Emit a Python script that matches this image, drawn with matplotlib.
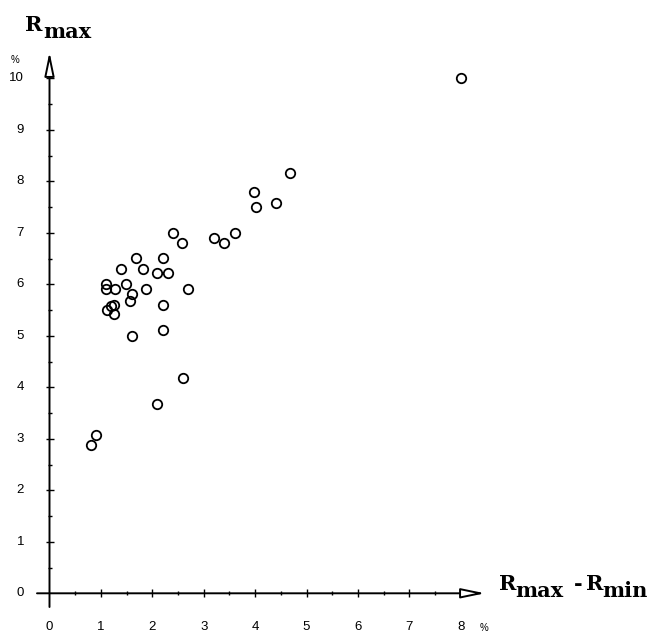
"""
Scatter of R_max against R_max - R_min (values in %)
"""

import matplotlib
matplotlib.use("Agg")
import matplotlib.pyplot as plt

# data (both axes in %)
spread = [8.0, 4.68, 3.98, 4.40, 4.01, 3.60, 3.20, 3.39, 2.40, 2.57,
          1.68, 2.20, 1.39, 1.81, 2.09, 2.30, 1.10, 1.49, 1.10, 1.28,
          1.87, 2.70, 1.61, 1.57, 2.20, 1.19, 1.26, 1.12, 1.26, 2.20,
          1.60, 2.60, 2.10, 0.90, 0.80]
rmax = [10.0, 8.17, 7.79, 7.58, 7.50, 7.00, 6.90, 6.80, 6.99, 6.80,
        6.51, 6.51, 6.30, 6.30, 6.21, 6.21, 6.00, 6.00, 5.90, 5.90,
        5.90, 5.90, 5.81, 5.68, 5.60, 5.58, 5.60, 5.51, 5.42, 5.11,
        5.00, 4.18, 3.68, 3.07, 2.87]

xticks = [0, 1, 2, 3, 4, 5, 6, 7, 8]
yticks = [0, 1, 2, 3, 4, 5, 6, 7, 8, 9, 10]

W, H = 656, 632
X0, SX = 49.5, 51.4   # pixel of x=0, pixels per unit
Y0, SY = 593.3, 51.5


def px(x, y):
    # pixel position (from top-left) -> data coordinates
    return (x - X0) / SX, (Y0 - y) / SY


fig = plt.figure(figsize=(W / 100, H / 100), dpi=100)
ax = fig.add_axes([0, 0, 1, 1])
ax.set_xlim(px(0, 0)[0], px(W, 0)[0])
ax.set_ylim(px(0, H)[1], px(0, 0)[1])
ax.axis("off")

# axes with hollow arrow heads
arrow = dict(arrowstyle="-|>,head_length=1.45,head_width=0.3", fc="white",
             ec="black", lw=1.4, shrinkA=0, shrinkB=0, mutation_scale=10)
ax.annotate("", xy=px(485, Y0), xytext=px(37, Y0), arrowprops=arrow)
ax.annotate("", xy=px(X0, 52), xytext=px(X0, 607), arrowprops=arrow)

# crossing ticks
ax.plot(xticks[1:], [0] * (len(xticks) - 1), ls="none", marker="|", ms=6, mew=1, color="black")
ax.plot([i + 0.5 for i in xticks[:-1]], [0] * (len(xticks) - 1), ls="none", marker="|", ms=3, mew=1, color="black")
ax.plot([0] * (len(yticks) - 1), yticks[1:], ls="none", marker="_", ms=6, mew=1, color="black")
ax.plot([0] * (len(yticks) - 1), [i + 0.5 for i in yticks[:-1]], ls="none", marker="_", ms=3, mew=1, color="black")

tick_font = dict(family="Liberation Sans", fontsize=9.5, color="black")
for t in xticks:
    ax.text(t, px(0, 627)[1], str(t), ha="center", va="center", **tick_font)
for t in yticks:
    ax.text(px(24, 0)[0], t, str(t), ha="right", va="center", **tick_font)
ax.text(*px(15, 60), "%", ha="center", va="center", family="Liberation Sans", fontsize=7)
ax.text(*px(484, 628), "%", ha="center", va="center", family="Liberation Sans", fontsize=7)

# axis titles
lab = dict(family="DejaVu Serif", fontweight="bold", fontsize=15, va="baseline", ha="left")
ax.text(*px(25, 31), "R", **lab)
ax.text(*px(43, 38.5), "max", **lab)
ax.text(*px(499, 590), "R", **lab)
ax.text(*px(515, 597), "max", **lab)
ax.text(*px(574, 590), "-", **lab)
ax.text(*px(586, 590), "R", **lab)
ax.text(*px(602, 597), "min", **lab)

ax.plot(spread, rmax, ls="none", marker="o", ms=6.8, mfc="none", mec="black", mew=1.3)

fig.savefig("out.png", dpi=100)
